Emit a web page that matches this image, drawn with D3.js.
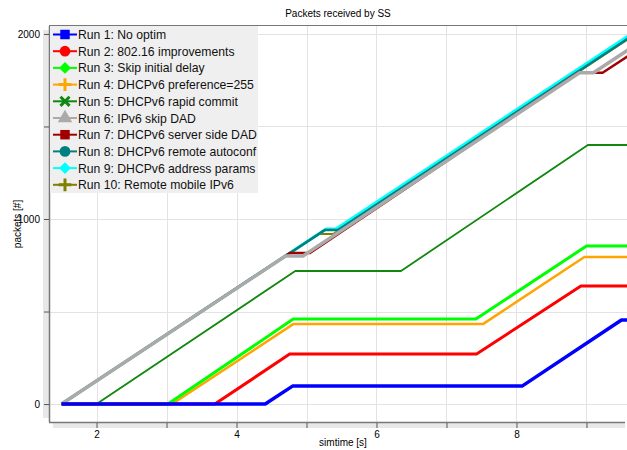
<html lang="en">
<head>
<meta charset="UTF-8">
<title>Packets received by SS</title>
<style>
  body { margin: 0; background: #fff; }
  text { font-family: "Liberation Sans", Arial, sans-serif; }
</style>
</head>
<body>
<svg id="chart" width="627" height="450"></svg>
<script src="https://d3js.org/d3.v7.min.js"></script>
<script>
// series: breakpoints (time [s], packets)
const names = [
  "Run 1: No optim", "Run 2: 802.16 improvements", "Run 3: Skip initial delay",
  "Run 4: DHCPv6 preference=255", "Run 5: DHCPv6 rapid commit", "Run 6: IPv6 skip DAD",
  "Run 7: DHCPv6 server side DAD", "Run 8: DHCPv6 remote autoconf",
  "Run 9: DHCPv6 address params", "Run 10: Remote mobile IPv6"
];
const run1T = [1.5, 4.41, 4.8, 8.08, 9.5, 9.6],  run1V = [0, 0, 97, 97, 454, 454];
const run2T = [1.5, 3.69, 4.76, 7.43, 8.92, 9.6], run2V = [0, 0, 270, 270, 638, 638];
const run3T = [1.5, 3.02, 4.81, 7.42, 9.0, 9.6],  run3V = [0, 0, 459, 459, 854, 854];
const run4T = [1.5, 3.08, 4.81, 7.52, 8.97, 9.6], run4V = [0, 0, 432, 432, 795, 795];
const run5T = [1.5, 2.0, 4.84, 6.35, 9.02, 9.6],  run5V = [0, 0, 719, 719, 1400, 1400];
const run6T = [1.5, 4.7, 4.95, 8.9, 9.1, 9.6],    run6V = [0, 800, 800, 1790, 1790, 1915];
const run7T = [1.5, 4.76, 5.05, 8.88, 9.23, 9.6], run7V = [0, 816, 816, 1790, 1790, 1882];
const run8T = [1.5, 5.26, 5.45, 9.6],             run8V = [0, 940, 940, 1977];
const run9T = [1.5, 5.28, 5.42, 9.6],             run9V = [0, 946, 946, 1990];
const run10T = [1.5, 5.17, 5.38, 9.6],            run10V = [0, 919, 919, 1974];

const xMajor = [2, 4, 6, 8], xMinor = [3, 5, 7, 9];
const yMajor = [0, 1000, 2000], yMinor = [500, 1500];

const allT = [run1T, run2T, run3T, run4T, run5T, run6T, run7T, run8T, run9T, run10T];
const allV = [run1V, run2V, run3V, run4V, run5V, run6V, run7V, run8V, run9V, run10V];

const colors = ["#0000ff", "#ff0000", "#00ff00", "#ffa500", "#108810", "#aaaaaa",
                "#a00000", "#008080", "#00ffff", "#808000"];
const widths = [3.5, 3, 3, 2.5, 1.8, 3.5, 2.5, 2.5, 3, 2];
const diamond = d3.symbolDiamond2 || d3.symbolDiamond;
const plus = d3.symbolPlus || d3.symbolCross;
const times = d3.symbolTimes || d3.symbolX || d3.symbolCross;
const shapes = [d3.symbolSquare, d3.symbolCircle, diamond, plus, times,
                d3.symbolTriangle, d3.symbolSquare, d3.symbolCircle, diamond, plus];
const stroked = [false, false, false, true, true, false, false, false, false, true];

const L = 49, R = 627, T = 26, B = 422;
const svg = d3.select("#chart");
const x = d3.scaleLinear().domain([1.321, 9.579]).range([L, R]);
const y = d3.scaleLinear().domain([-97, 2043]).range([B, T]);

// shadow bands of the axes
svg.append("rect").attr("x", L - 6).attr("y", T + 4).attr("width", 6).attr("height", B - T - 8).attr("fill", "#e8e8e8");
svg.append("rect").attr("x", L + 4).attr("y", B + 1).attr("width", R - L - 6).attr("height", 5).attr("fill", "#e8e8e8");
svg.append("rect").attr("x", L).attr("y", T).attr("width", R - L).attr("height", B - T).attr("fill", "#fff");

// grid
const grid = svg.append("g").attr("stroke", "#e3e3e3").attr("stroke-width", 1);
xMajor.concat(xMinor).forEach(t => grid.append("line")
  .attr("x1", Math.round(x(t)) + 0.5).attr("x2", Math.round(x(t)) + 0.5).attr("y1", T).attr("y2", B));
yMajor.concat(yMinor).forEach(v => grid.append("line")
  .attr("y1", Math.round(y(v)) + 0.5).attr("y2", Math.round(y(v)) + 0.5).attr("x1", L).attr("x2", R));

// lines
svg.append("clipPath").attr("id", "plotClip").append("rect")
  .attr("x", L).attr("y", T).attr("width", R - L).attr("height", B - T);
const line = d3.line().x(d => x(d[0])).y(d => y(d[1]));
const plot = svg.append("g").attr("clip-path", "url(#plotClip)");
for (let i = 9; i >= 0; i--) {
  const pts = allT[i].map((t, j) => [t, allV[i][j]]);
  plot.append("path").attr("d", line(pts)).attr("fill", "none")
    .attr("stroke", colors[i]).attr("stroke-width", widths[i]).attr("stroke-linejoin", "round");
}

// frame
svg.append("line").attr("x1", L).attr("x2", R).attr("y1", T - 0.5).attr("y2", T - 0.5).attr("stroke", "#777");
svg.append("line").attr("x1", L + 0.5).attr("x2", L + 0.5).attr("y1", T).attr("y2", B).attr("stroke", "#777").attr("stroke-width", 1.5);
svg.append("line").attr("x1", L).attr("x2", R - 2).attr("y1", B + 0.5).attr("y2", B + 0.5).attr("stroke", "#777").attr("stroke-width", 1.5);

// axes
const xAxis = d3.axisBottom(x).tickValues(xMajor.concat(xMinor)).tickSize(5).tickPadding(3)
  .tickFormat(d => xMajor.includes(d) ? d3.format("d")(d) : "");
svg.append("g").attr("transform", `translate(0,${B + 1})`).call(xAxis)
  .call(g => g.select(".domain").remove())
  .call(g => g.selectAll("line").attr("stroke", "#555"))
  .call(g => g.selectAll("text").attr("font-size", 10).attr("fill", "#000").attr("font-family", "Liberation Sans, Arial, sans-serif"));
const yAxis = d3.axisLeft(y).tickValues(yMajor.concat(yMinor)).tickSize(5).tickPadding(4)
  .tickFormat(d => yMajor.includes(d) ? d3.format("d")(d) : "");
svg.append("g").attr("transform", `translate(${L},0)`).call(yAxis)
  .call(g => g.select(".domain").remove())
  .call(g => g.selectAll("line").attr("stroke", "#555"))
  .call(g => g.selectAll("text").attr("font-size", 10).attr("fill", "#000").attr("font-family", "Liberation Sans, Arial, sans-serif"));

// titles
svg.append("text").attr("x", 338).attr("y", 17).attr("text-anchor", "middle").attr("font-size", 10).text("Packets received by SS");
svg.append("text").attr("x", 343).attr("y", 446).attr("text-anchor", "middle").attr("font-size", 10).text("simtime [s]");
svg.append("text").attr("transform", "translate(21,224) rotate(-90)").attr("text-anchor", "middle").attr("font-size", 10).text("packets [#]");

// legend
const leg = svg.append("g");
leg.append("rect").attr("x", L + 1).attr("y", T).attr("width", 208).attr("height", 167).attr("fill", "#efefef");
names.forEach((n, i) => {
  const cy = 34.5 + i * 16.7;
  leg.append("line").attr("x1", 53).attr("x2", 77).attr("y1", cy).attr("y2", cy)
    .attr("stroke", colors[i]).attr("stroke-width", 2);
  const sym = d3.symbol().type(shapes[i]).size(stroked[i] ? 55 : 90);
  const m = leg.append("path").attr("d", sym()).attr("transform", `translate(65,${cy})`);
  if (stroked[i]) m.attr("fill", "none").attr("stroke", colors[i]).attr("stroke-width", 3);
  else m.attr("fill", colors[i]);
  leg.append("text").attr("x", 78).attr("y", cy + 4.5).attr("font-size", 12.2).attr("fill", "#111").text(n);
});
</script>
</body>
</html>
